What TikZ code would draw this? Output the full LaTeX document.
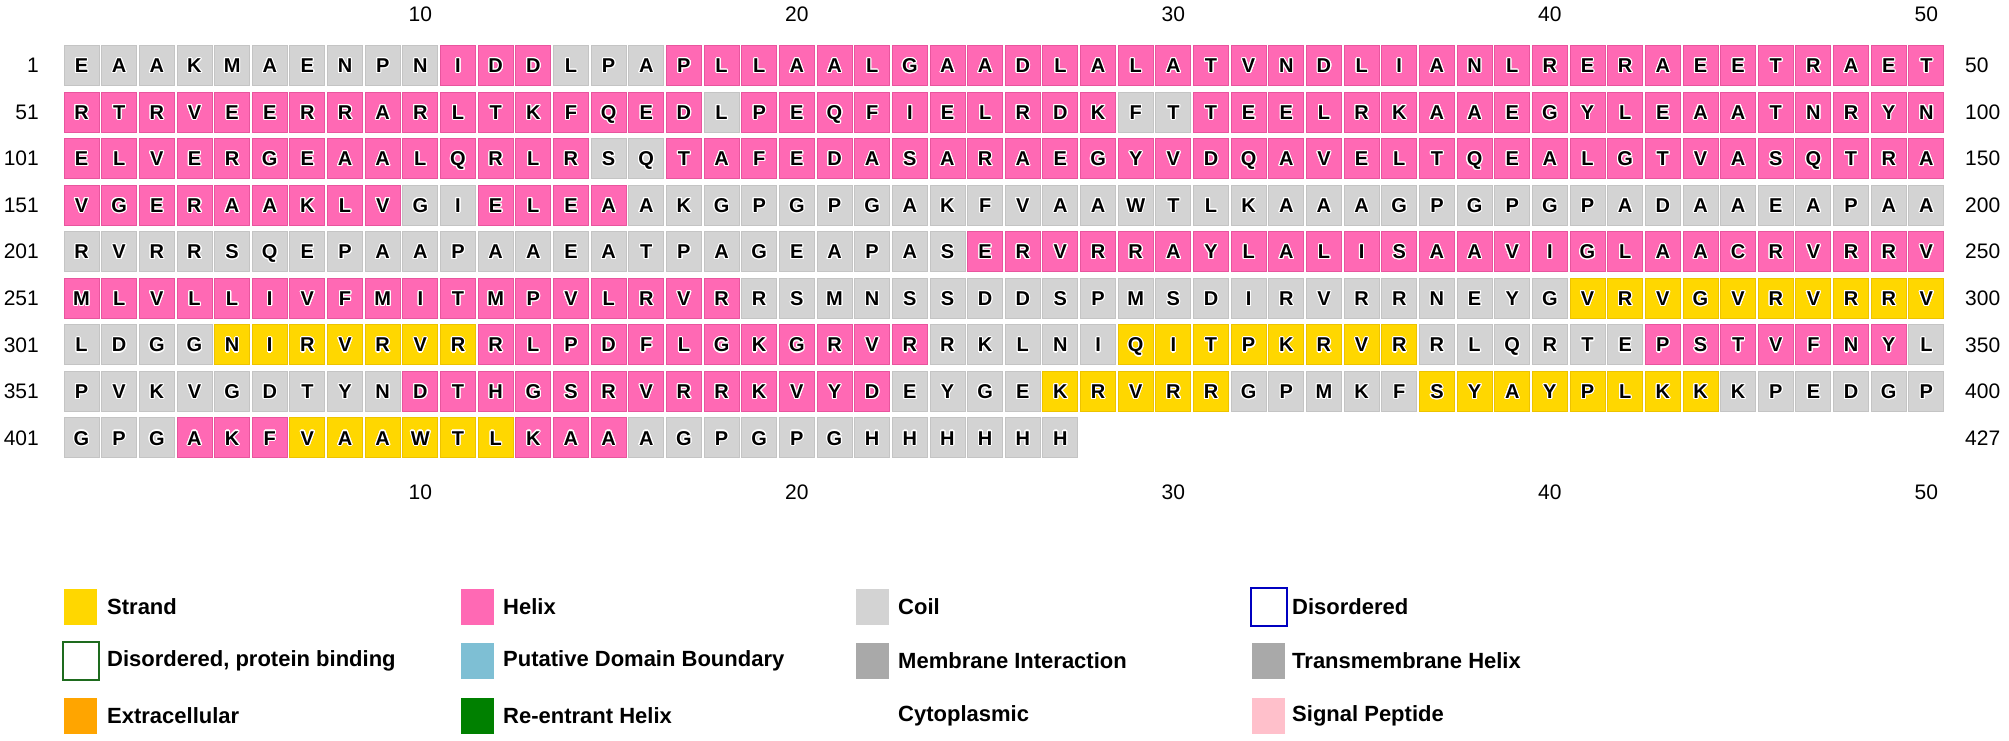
\documentclass[tikz,border=0pt]{standalone}
\usepackage{fontspec}
\setmainfont{Liberation Sans}
\usepackage[copies]{contour}
\contourlength{1.1pt}
\contournumber{20}
\definecolor{fY}{HTML}{FFD700}
\definecolor{dY}{HTML}{EDC300}
\definecolor{fH}{HTML}{FF69B4}
\definecolor{dH}{HTML}{E8559E}
\definecolor{fC}{HTML}{D3D3D3}
\definecolor{dC}{HTML}{C4C4C4}
\definecolor{legblue}{HTML}{7EBFD4}
\definecolor{leggray}{HTML}{A9A9A9}
\definecolor{legorange}{HTML}{FFA500}
\definecolor{leggreen}{HTML}{008000}
\definecolor{legdkgreen}{HTML}{1E6B1E}
\definecolor{legdblue}{HTML}{0000C0}
\definecolor{legpink}{HTML}{FFC0CB}
\newcommand\seqrow[2]{%
  \foreach \rl/\rk [count=\i] in {#2} {%
    \node[cell, fill=f\rk, draw=d\rk] (c#1-\i) at ({81.5+(\i-1)*37.65}, {65.5+(#1-1)*46.55}) {\contour{white}{\rl}};
  }}
\begin{document}
\begin{tikzpicture}[x=1pt,y=-1pt,
  cell/.style={minimum width=35pt, minimum height=40pt, inner sep=0pt, line width=0.9pt,
    text height=14.3pt, text depth=0pt, font=\bfseries\fontsize{20}{20}\selectfont},
  numlab/.style={inner sep=0pt, font=\fontsize{21}{21}\selectfont},
  swatch/.style={minimum width=33pt, minimum height=36pt, inner sep=0pt},
  oswatch/.style={minimum width=36pt, minimum height=38pt, inner sep=0pt, line width=2pt, fill=white},
  legtext/.style={anchor=west, inner sep=0pt, font=\bfseries\fontsize{22}{22}\selectfont}]
\useasboundingbox (0,0) rectangle (2009,741);
\fill[white] (0,0) rectangle (2009,741);

\seqrow{1}{E/C,A/C,A/C,K/C,M/C,A/C,E/C,N/C,P/C,N/C,I/H,D/H,D/H,L/C,P/C,A/C,P/H,L/H,L/H,A/H,A/H,L/H,G/H,A/H,A/H,D/H,L/H,A/H,L/H,A/H,T/H,V/H,N/H,D/H,L/H,I/H,A/H,N/H,L/H,R/H,E/H,R/H,A/H,E/H,E/H,T/H,R/H,A/H,E/H,T/H}
\seqrow{2}{R/H,T/H,R/H,V/H,E/H,E/H,R/H,R/H,A/H,R/H,L/H,T/H,K/H,F/H,Q/H,E/H,D/H,L/C,P/H,E/H,Q/H,F/H,I/H,E/H,L/H,R/H,D/H,K/H,F/C,T/C,T/H,E/H,E/H,L/H,R/H,K/H,A/H,A/H,E/H,G/H,Y/H,L/H,E/H,A/H,A/H,T/H,N/H,R/H,Y/H,N/H}
\seqrow{3}{E/H,L/H,V/H,E/H,R/H,G/H,E/H,A/H,A/H,L/H,Q/H,R/H,L/H,R/H,S/C,Q/C,T/H,A/H,F/H,E/H,D/H,A/H,S/H,A/H,R/H,A/H,E/H,G/H,Y/H,V/H,D/H,Q/H,A/H,V/H,E/H,L/H,T/H,Q/H,E/H,A/H,L/H,G/H,T/H,V/H,A/H,S/H,Q/H,T/H,R/H,A/H}
\seqrow{4}{V/H,G/H,E/H,R/H,A/H,A/H,K/H,L/H,V/H,G/C,I/C,E/H,L/H,E/H,A/H,A/C,K/C,G/C,P/C,G/C,P/C,G/C,A/C,K/C,F/C,V/C,A/C,A/C,W/C,T/C,L/C,K/C,A/C,A/C,A/C,G/C,P/C,G/C,P/C,G/C,P/C,A/C,D/C,A/C,A/C,E/C,A/C,P/C,A/C,A/C}
\seqrow{5}{R/C,V/C,R/C,R/C,S/C,Q/C,E/C,P/C,A/C,A/C,P/C,A/C,A/C,E/C,A/C,T/C,P/C,A/C,G/C,E/C,A/C,P/C,A/C,S/C,E/H,R/H,V/H,R/H,R/H,A/H,Y/H,L/H,A/H,L/H,I/H,S/H,A/H,A/H,V/H,I/H,G/H,L/H,A/H,A/H,C/H,R/H,V/H,R/H,R/H,V/H}
\seqrow{6}{M/H,L/H,V/H,L/H,L/H,I/H,V/H,F/H,M/H,I/H,T/H,M/H,P/H,V/H,L/H,R/H,V/H,R/H,R/C,S/C,M/C,N/C,S/C,S/C,D/C,D/C,S/C,P/C,M/C,S/C,D/C,I/C,R/C,V/C,R/C,R/C,N/C,E/C,Y/C,G/C,V/Y,R/Y,V/Y,G/Y,V/Y,R/Y,V/Y,R/Y,R/Y,V/Y}
\seqrow{7}{L/C,D/C,G/C,G/C,N/Y,I/Y,R/Y,V/Y,R/Y,V/Y,R/Y,R/H,L/H,P/H,D/H,F/H,L/H,G/H,K/H,G/H,R/H,V/H,R/H,R/C,K/C,L/C,N/C,I/C,Q/Y,I/Y,T/Y,P/Y,K/Y,R/Y,V/Y,R/Y,R/C,L/C,Q/C,R/C,T/C,E/C,P/H,S/H,T/H,V/H,F/H,N/H,Y/H,L/C}
\seqrow{8}{P/C,V/C,K/C,V/C,G/C,D/C,T/C,Y/C,N/C,D/H,T/H,H/H,G/H,S/H,R/H,V/H,R/H,R/H,K/H,V/H,Y/H,D/H,E/C,Y/C,G/C,E/C,K/Y,R/Y,V/Y,R/Y,R/Y,G/C,P/C,M/C,K/C,F/C,S/Y,Y/Y,A/Y,Y/Y,P/Y,L/Y,K/Y,K/Y,K/C,P/C,E/C,D/C,G/C,P/C}
\seqrow{9}{G/C,P/C,G/C,A/H,K/H,F/H,V/Y,A/Y,A/Y,W/Y,T/Y,L/Y,K/H,A/H,A/H,A/C,G/C,P/C,G/C,P/C,G/C,H/C,H/C,H/C,H/C,H/C,H/C}

% row numbers
\foreach \n/\r in {1/1,51/2,101/3,151/4,201/5,251/6,301/7,351/8,401/9}
  \node[numlab, anchor=east] (left\r) at (39, {65.5+(\r-1)*46.55}) {\n};
\foreach \n/\r in {50/1,100/2,150/3,200/4,250/5,300/6,350/7,400/8,427/9}
  \node[numlab, anchor=west] (right\r) at (1965, {65.5+(\r-1)*46.55}) {\n};
% column numbers
\foreach \c in {10,20,30,40,50} {
  \node[numlab] (top\c) at ({81.5+(\c-1)*37.65}, 14) {\c};
  \node[numlab] (bot\c) at ({81.5+(\c-1)*37.65}, 492) {\c};
}

% legend
\node[swatch, fill=fY] (sw1) at (80.5,607) {};
\node[legtext] (lt1) at (107,607) {Strand};
\node[oswatch, draw=legdkgreen] (sw2) at (81,661) {};
\node[legtext] (lt2) at (107,661) {Disordered, protein binding};
\node[swatch, fill=legorange] (sw3) at (80.5,716) {};
\node[legtext] (lt3) at (107,716) {Extracellular};

\node[swatch, fill=fH] (sw4) at (477.5,607) {};
\node[legtext] (lt4) at (503,607) {Helix};
\node[swatch, fill=legblue] (sw5) at (477.5,661) {};
\node[legtext] (lt5) at (503,661) {Putative Domain Boundary};
\node[swatch, fill=leggreen] (sw6) at (477.5,716) {};
\node[legtext] (lt6) at (503,716) {Re-entrant Helix};

\node[swatch, fill=fC] (sw7) at (872.5,607) {};
\node[legtext] (lt7) at (898,607) {Coil};
\node[swatch, fill=leggray] (sw8) at (872.5,661) {};
\node[legtext] (lt8) at (898,661) {Membrane Interaction};
\node[legtext] (lt9) at (898,716) {Cytoplasmic};

\node[oswatch, draw=legdblue] (sw10) at (1269,607) {};
\node[legtext] (lt10) at (1292,607) {Disordered};
\node[swatch, fill=leggray] (sw11) at (1268,661) {};
\node[legtext] (lt11) at (1292,661) {Transmembrane Helix};
\node[swatch, fill=legpink] (sw12) at (1268,716) {};
\node[legtext] (lt12) at (1292,716) {Signal Peptide};
\end{tikzpicture}
\end{document}
